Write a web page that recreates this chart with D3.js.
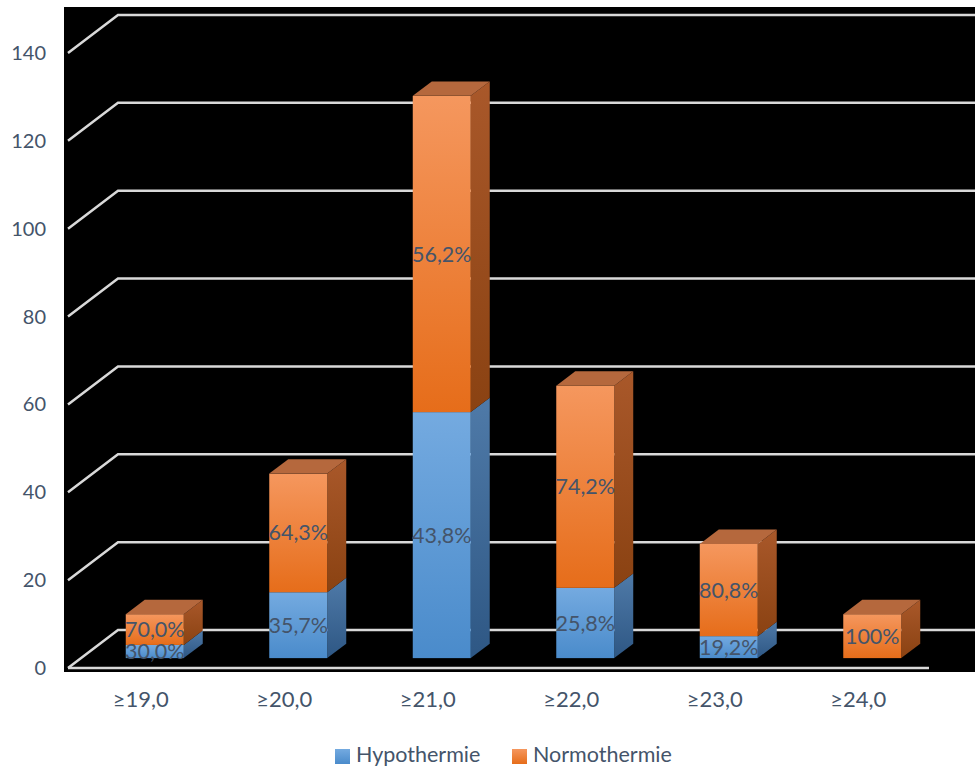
<!DOCTYPE html>
<html>
<head>
<meta charset="utf-8">
<script src="https://cdn.jsdelivr.net/npm/d3@7/dist/d3.min.js"></script>
<style>
  html, body { margin: 0; padding: 0; background: #fff; }
  svg { display: block; }
  text { font-family: Lato, "Open Sans", sans-serif; }
</style>
</head>
<body>
<svg id="chart" width="975" height="767"></svg>
<script>
// Patient counts per category, split by temperature outcome
const categories = ["≥19,0", "≥20,0", "≥21,0", "≥22,0", "≥23,0", "≥24,0"];
const hypothermie = [3, 15, 56, 16, 5, 0];
const normothermie = [7, 27, 72, 46, 21, 10];
const hypoLabels = ["30,0%", "35,7%", "43,8%", "25,8%", "19,2%", ""];
const normoLabels = ["70,0%", "64,3%", "56,2%", "74,2%", "80,8%", "100%"];
const yTicks = [0, 20, 40, 60, 80, 100, 120, 140];
const seriesNames = ["Hypothermie", "Normothermie"];

const svg = d3.select("#chart");
const W = 975, H = 767;

// plot background
svg.append("rect").attr("x", 64).attr("y", 7).attr("width", W - 64).attr("height", 665).attr("fill", "#000");

// front plane scales
const x = d3.scaleBand().domain(categories).range([68, 929]);
const y = d3.scaleLinear().domain([0, 140]).range([668, 53]);

// depth projection: z=0 front of floor, z=1 back wall
const DX = 50, DY = -38;
const px = (xx, z) => xx + DX * z;
const py = (v, z) => y(v) + DY * z;

// gridlines: diagonal side wall + horizontal back wall line
const grid = svg.append("g").attr("stroke", "#d9d9d9").attr("stroke-width", 2.5).attr("fill", "none");
yTicks.forEach(t => {
  grid.append("path").attr("d", d3.line()([[px(68, 0), py(t, 0)], [px(68, 1), py(t, 1)], [W + 5, py(t, 1)]]));
});
// floor front edge
grid.append("line").attr("x1", 68).attr("x2", 929).attr("y1", y(0)).attr("y2", y(0));

// y tick labels
svg.append("g").selectAll("text").data(yTicks).join("text")
  .attr("x", 46).attr("y", d => y(d)).attr("dy", "0.35em")
  .attr("text-anchor", "end").attr("font-size", 20).attr("fill", "#44546a")
  .text(d => d);

// gradients
const defs = svg.append("defs");
function grad(id, top, bottom) {
  const g = defs.append("linearGradient").attr("id", id).attr("x1", 0).attr("y1", 0).attr("x2", 0).attr("y2", 1);
  g.append("stop").attr("offset", "0%").attr("stop-color", top);
  g.append("stop").attr("offset", "100%").attr("stop-color", bottom);
}
grad("blueFront", "#74aae0", "#4a8bcb");
grad("blueSide", "#4f7aa8", "#2e5784");
grad("orangeFront", "#f5975e", "#e66d1a");
grad("orangeSide", "#a9582a", "#8a4212");

const zF = 0.26, zB = 0.64;
const barW = x.bandwidth() * 0.404;

const bars = svg.append("g");
categories.forEach((c, i) => {
  const cx = x(c) + x.bandwidth() / 2 + 2;
  const x0 = cx - barW / 2, x1 = cx + barW / 2;
  const segs = [
    { lo: 0, hi: hypothermie[i], front: "url(#blueFront)", side: "url(#blueSide)", label: hypoLabels[i] },
    { lo: hypothermie[i], hi: hypothermie[i] + normothermie[i], front: "url(#orangeFront)", side: "url(#orangeSide)", label: normoLabels[i] }
  ].filter(s => s.hi > s.lo);
  segs.forEach(s => {
    // side face
    bars.append("path").attr("fill", s.side).attr("d", d3.line()([
      [px(x1, zF), py(s.lo, zF)], [px(x1, zB), py(s.lo, zB)],
      [px(x1, zB), py(s.hi, zB)], [px(x1, zF), py(s.hi, zF)]
    ]) + "Z");
    // front face
    bars.append("rect").attr("fill", s.front)
      .attr("x", px(x0, zF)).attr("width", barW)
      .attr("y", py(s.hi, zF)).attr("height", py(s.lo, zF) - py(s.hi, zF));
  });
  // top face
  const top = hypothermie[i] + normothermie[i];
  bars.append("path").attr("fill", "#b5683d").attr("d", d3.line()([
    [px(x0, zF), py(top, zF)], [px(x1, zF), py(top, zF)],
    [px(x1, zB), py(top, zB)], [px(x0, zB), py(top, zB)]
  ]) + "Z");
  // data labels
  segs.forEach(s => {
    bars.append("text")
      .attr("x", px(cx, zF)).attr("y", py((s.lo + s.hi) / 2, zF)).attr("dy", "0.35em")
      .attr("text-anchor", "middle").attr("font-size", 21.5).attr("fill", "#44546a")
      .text(s.label);
  });
});

// category labels
svg.append("g").selectAll("text").data(categories).join("text")
  .attr("x", d => x(d) + x.bandwidth() / 2 + 1).attr("y", 699).attr("dy", "0.35em")
  .attr("text-anchor", "middle").attr("font-size", 22).attr("fill", "#44546a")
  .text(d => d);

// legend
grad("legBlue", "#74aae0", "#4a8bcb");
grad("legOrange", "#f5975e", "#e66d1a");
const legend = svg.append("g");
const legItems = [
  { name: seriesNames[0], fill: "url(#legBlue)", x: 335 },
  { name: seriesNames[1], fill: "url(#legOrange)", x: 512 }
];
legItems.forEach(d => {
  legend.append("rect").attr("x", d.x).attr("y", 749).attr("width", 15).attr("height", 15).attr("fill", d.fill);
  legend.append("text").attr("x", d.x + 21).attr("y", 754).attr("dy", "0.35em")
    .attr("font-size", 21.5).attr("fill", "#44546a").text(d.name);
});
</script>
</body>
</html>
